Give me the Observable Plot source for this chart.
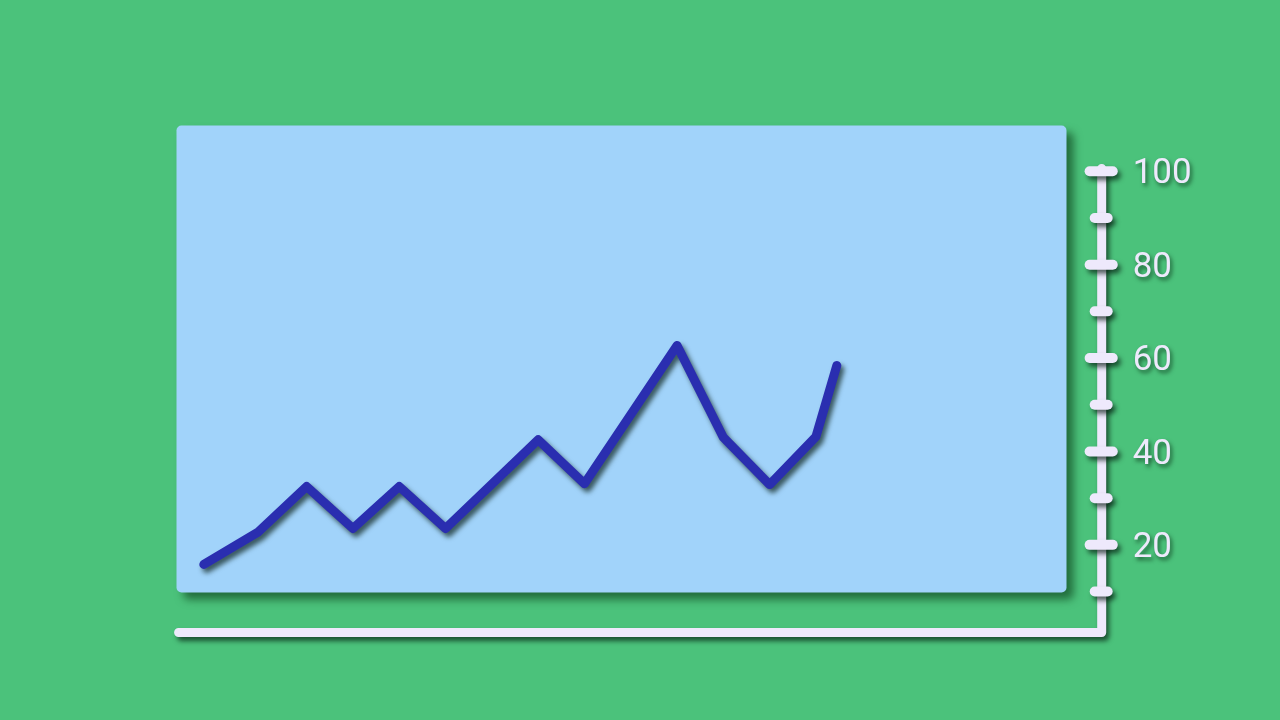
<!DOCTYPE html>
<html>
<head>
<meta charset="utf-8">
<script src="https://cdn.jsdelivr.net/npm/d3@7"></script>
<script src="https://cdn.jsdelivr.net/npm/@observablehq/plot@0.6"></script>
<style>
  html, body { margin: 0; padding: 0; background: #4BC27B; overflow: hidden; }
  #chart svg { display: block; }
</style>
</head>
<body>
<div id="chart"></div>
<script>
// Data
const xs = [-0.22, 0.96, 2, 3, 4, 5, 7, 8, 10, 11, 12, 13, 13.45];
const values = [15.8, 22.8, 32.5, 23.5, 32.5, 23.5, 42.5, 33.1, 62.7, 43.0, 32.9, 43.2, 58.4];
const majorTicks = [20, 40, 60, 80, 100];
const minorTicks = [10, 30, 50, 70, 90];
const tickLabels = ["20", "40", "60", "80", "100"];

// Axis geometry in data units
const axisX = 19.17;
const axisBottomY = 1.23;
const axisLeftX = -0.765;
const axisTopY = 100.6;

const bg = "#4BC27B";
const panel = "#A1D3FA";
const lineColor = "#2A2EB0";
const axisColor = "#EEE9FC";

const series = xs.map((x, i) => ({x, y: values[i]}));
const axisPath = [
  {x: axisLeftX, y: axisBottomY},
  {x: axisX, y: axisBottomY},
  {x: axisX, y: axisTopY}
];
const labels = majorTicks.map((v, i) => ({y: v, label: tickLabels[i]}));

const chart = Plot.plot({
  width: 1280,
  height: 720,
  marginLeft: 176,
  marginRight: 214,
  marginTop: 125,
  marginBottom: 128,
  style: {background: bg, fontFamily: "Roboto, sans-serif", overflow: "visible"},
  x: {domain: [-0.81, 18.41], axis: null},
  y: {domain: [9.8, 109.8], axis: null},
  marks: [
    Plot.frame({fill: panel, stroke: "none", rx: 5}),
    Plot.line(axisPath, {x: "x", y: "y", stroke: axisColor, strokeWidth: 9, strokeLinejoin: "round", strokeLinecap: "round"}),
    Plot.ruleY(minorTicks, {y: d => d, x1: axisX - 0.14, x2: axisX + 0.14, stroke: axisColor, strokeWidth: 10, strokeLinecap: "round"}),
    Plot.ruleY(majorTicks, {y: d => d, x1: axisX - 0.25, x2: axisX + 0.25, stroke: axisColor, strokeWidth: 10, strokeLinecap: "round"}),
    Plot.text(labels, {x: axisX, y: "y", text: "label", dx: 31, dy: 1, textAnchor: "start", fontSize: 35, fill: axisColor}),
    Plot.line(series, {x: "x", y: "y", stroke: lineColor, strokeWidth: 9, strokeLinejoin: "round", strokeLinecap: "round"})
  ]
});

document.getElementById("chart").appendChild(chart);

// Drop shadows
chart.querySelectorAll(":scope > g, :scope > rect, :scope > path").forEach(el => {
  const label = el.getAttribute("aria-label") || "";
  if (label === "frame") {
    el.style.filter = "drop-shadow(7px 7px 4px rgba(0,40,10,0.55))";
  } else if (label === "text") {
    el.style.filter = "drop-shadow(2px 3px 2px rgba(0,30,10,0.6))";
  } else {
    el.style.filter = "drop-shadow(3px 4px 2.5px rgba(0,20,10,0.65))";
  }
});
</script>
</body>
</html>
